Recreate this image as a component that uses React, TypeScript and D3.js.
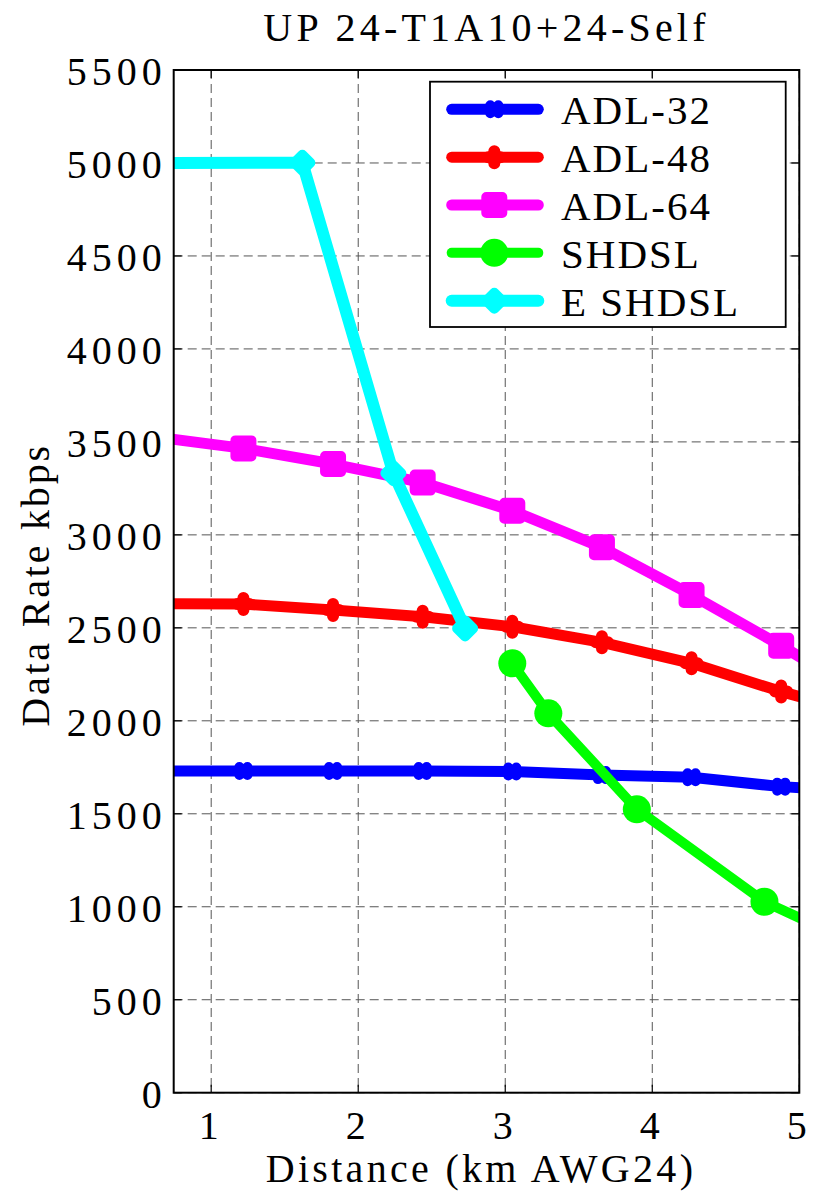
import React from "react";
import * as d3 from "d3";

// ---- data ----
const distKm = [0.6096, 1.2192, 1.8288, 2.4384, 3.048, 3.6576, 4.2672, 4.8768, 5.4864];
const adl32 = [1730, 1730, 1730, 1730, 1727, 1708, 1696, 1646, 1615];
const adl48 = [2630, 2628, 2596, 2560, 2506, 2422, 2309, 2157, 2025];
const adl64 = [3528, 3465, 3381, 3281, 3130, 2933, 2677, 2404, 2113];
const shdslKm = [3.048, 3.293, 3.895, 4.763, 5.49];
const shdsl = [2309, 2040, 1524, 1027, 762];
const eshdslKm = [0.6096, 1.62, 2.239, 2.727];
const eshdsl = [5000, 5001, 3331, 2497];

const xTicks = [1, 2, 3, 4, 5];
const yTicks = [0, 500, 1000, 1500, 2000, 2500, 3000, 3500, 4000, 4500, 5000, 5500];

const titleText = "UP 24-T1A10+24-Self";
const xLabel = "Distance (km AWG24)";
const yLabel = "Data Rate kbps";

type MarkerType = "x" | "plus" | "square" | "circle" | "diamond";
interface Series {
  name: string;
  color: string;
  xs: number[];
  ys: number[];
  marker: MarkerType;
  width: number;
}

const seriesList: Series[] = [
  { name: "ADL-32", color: "#0000ff", xs: distKm, ys: adl32, marker: "x", width: 11 },
  { name: "ADL-48", color: "#ff0000", xs: distKm, ys: adl48, marker: "plus", width: 11 },
  { name: "ADL-64", color: "#ff00ff", xs: distKm, ys: adl64, marker: "square", width: 11 },
  { name: "SHDSL", color: "#00ff00", xs: shdslKm, ys: shdsl, marker: "circle", width: 10 },
  { name: "E SHDSL", color: "#00ffff", xs: eshdslKm, ys: eshdsl, marker: "diamond", width: 12 },
];

const FONT = "'Liberation Serif', 'Times New Roman', serif";

function Marker({ type, x, y, color }: { type: MarkerType; x: number; y: number; color: string }) {
  switch (type) {
    case "x":
      return (
        <path
          d={`M${x - 4},${y - 4}L${x + 4},${y + 4}M${x - 4},${y + 4}L${x + 4},${y - 4}`}
          stroke={color}
          strokeWidth={10}
          strokeLinecap="round"
          fill="none"
        />
      );
    case "plus":
      return (
        <path
          d={`M${x},${y - 6}L${x},${y + 6}M${x - 6},${y}L${x + 6},${y}`}
          stroke={color}
          strokeWidth={12}
          strokeLinecap="round"
          fill="none"
        />
      );
    case "square":
      return (
        <rect
          x={x - 8}
          y={y - 8}
          width={16}
          height={16}
          fill={color}
          stroke={color}
          strokeWidth={10}
          strokeLinejoin="round"
        />
      );
    case "circle":
      return <circle cx={x} cy={y} r={14} fill={color} />;
    case "diamond":
      return (
        <path
          d={`M${x},${y - 8}L${x + 8},${y}L${x},${y + 8}L${x - 8},${y}Z`}
          fill={color}
          stroke={color}
          strokeWidth={10}
          strokeLinejoin="round"
        />
      );
  }
  return null;
}

export default function App() {
  const W = 814;
  const H = 1191;
  const left = 173.7;
  const right = 799.3;
  const top = 70;
  const bottom = 1092.7;

  const x = d3.scaleLinear().domain([0.745, 5]).range([left, right]);
  const y = d3.scaleLinear().domain([0, 5500]).range([bottom, top]);

  const lineGen = d3
    .line<[number, number]>()
    .x((d) => x(d[0]))
    .y((d) => y(d[1]));

  const tickLen = 8;

  const legend = { x0: 430, y0: 81.7, x1: 785.7, y1: 327, row0: 109.3, step: 47.85 };

  return (
    <svg
      width={W}
      height={H}
      viewBox={`0 0 ${W} ${H}`}
      style={{ position: "absolute", left: 0, top: 0, background: "#fff" }}
      fontFamily={FONT}
    >
      <rect x={0} y={0} width={W} height={H} fill="#fff" />
      <defs>
        <clipPath id="plotClip">
          <rect x={left} y={top} width={right - left} height={bottom - top} />
        </clipPath>
      </defs>

      {/* grid */}
      <g stroke="#555" strokeWidth={1} strokeDasharray="9,5" fill="none">
        {xTicks.map((t) => (
          <line key={"gx" + t} x1={x(t)} x2={x(t)} y1={top} y2={bottom} />
        ))}
        {yTicks.map((t) => (
          <line key={"gy" + t} x1={left} x2={right} y1={y(t)} y2={y(t)} />
        ))}
      </g>

      {/* ticks */}
      <g stroke="#000" strokeWidth={1.2}>
        {xTicks.map((t) => (
          <g key={"tx" + t}>
            <line x1={x(t)} x2={x(t)} y1={bottom} y2={bottom - tickLen} />
            <line x1={x(t)} x2={x(t)} y1={top} y2={top + tickLen} />
          </g>
        ))}
        {yTicks.map((t) => (
          <g key={"ty" + t}>
            <line x1={left} x2={left + tickLen} y1={y(t)} y2={y(t)} />
            <line x1={right} x2={right - tickLen} y1={y(t)} y2={y(t)} />
          </g>
        ))}
      </g>

      {/* series */}
      <g clipPath="url(#plotClip)">
        {seriesList.map((s) => {
          const pts: [number, number][] = s.xs.map((v, i) => [v, s.ys[i]]);
          return (
            <g key={s.name}>
              <path
                d={lineGen(pts) || ""}
                fill="none"
                stroke={s.color}
                strokeWidth={s.width}
                strokeLinejoin="round"
                strokeLinecap="round"
              />
              {pts.map((p, i) => (
                <Marker key={i} type={s.marker} x={x(p[0])} y={y(p[1])} color={s.color} />
              ))}
            </g>
          );
        })}
      </g>

      {/* axes box */}
      <rect
        x={left}
        y={top}
        width={right - left}
        height={bottom - top}
        fill="none"
        stroke="#000"
        strokeWidth={2}
      />

      {/* tick labels */}
      <g fontSize={40} fill="#000" letterSpacing={5}>
        {yTicks.map((t) => (
          <text key={"ly" + t} x={left - 12 + 5} y={y(t) + 15} textAnchor="end">
            {t}
          </text>
        ))}
        {xTicks.map((t) => (
          <text key={"lx" + t} x={x(t)} y={1139} textAnchor="middle">
            {t}
          </text>
        ))}
      </g>

      {/* title and axis labels */}
      <text x={486.5} y={41} fontSize={40} textAnchor="middle" letterSpacing={4.2}>
        {titleText}
      </text>
      <text x={481} y={1182} fontSize={40} textAnchor="middle" letterSpacing={3.3}>
        {xLabel}
      </text>
      <text
        transform={`translate(49,585) rotate(-90)`}
        fontSize={40}
        textAnchor="middle"
        letterSpacing={2.8}
      >
        {yLabel}
      </text>

      {/* legend */}
      <rect
        x={legend.x0}
        y={legend.y0}
        width={legend.x1 - legend.x0}
        height={legend.y1 - legend.y0}
        fill="#fff"
        stroke="#000"
        strokeWidth={1.8}
      />
      {seriesList.map((s, i) => {
        const ry = legend.row0 + i * legend.step;
        return (
          <g key={"lg" + s.name}>
            <line
              x1={451.7}
              x2={538.3}
              y1={ry}
              y2={ry}
              stroke={s.color}
              strokeWidth={s.width}
              strokeLinecap="round"
            />
            <Marker type={s.marker} x={494.3} y={ry} color={s.color} />
            <text x={561} y={ry + 15} fontSize={41} letterSpacing={2}>
              {s.name}
            </text>
          </g>
        );
      })}
    </svg>
  );
}
